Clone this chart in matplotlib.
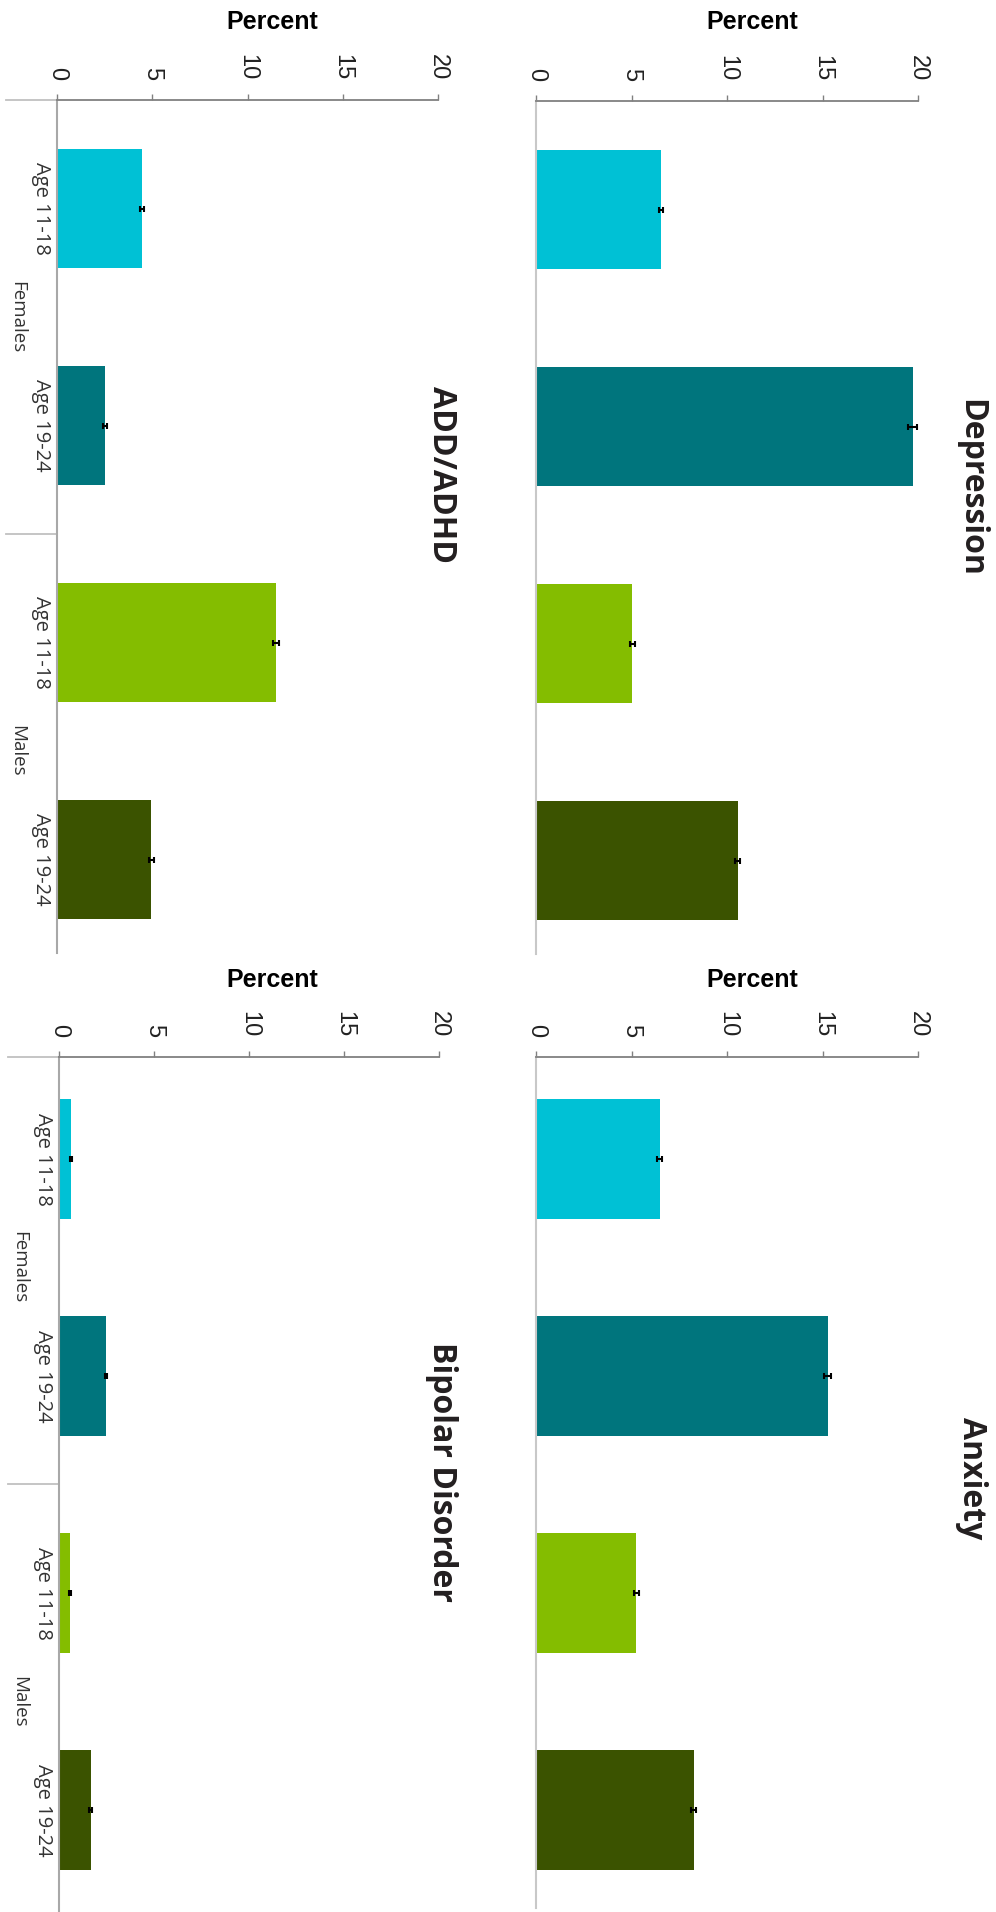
import matplotlib
matplotlib.use("Agg")
import matplotlib.pyplot as plt
import matplotlib.font_manager as fm
import numpy as np

# data
categories = ["Age 11-18", "Age 19-24", "Age 11-18", "Age 19-24"]
groups = ["Females", "Males"]
bar_colors = ["#00c1d5", "#00757d", "#84bd00", "#3b5300"]
ticks = [0, 5, 10, 15, 20]

depression = [6.55, 19.72, 5.05, 10.55]
depression_err = [0.12, 0.22, 0.12, 0.15]
anxiety = [6.47, 15.27, 5.25, 8.25]
anxiety_err = [0.12, 0.18, 0.12, 0.12]
adhd = [4.45, 2.5, 11.5, 4.95]
adhd_err = [0.1, 0.1, 0.14, 0.12]
bipolar = [0.65, 2.47, 0.56, 1.68]
bipolar_err = [0.05, 0.06, 0.05, 0.08]

W, H = 996, 1912
SLOT = 217
names = {f.name for f in fm.fontManager.ttflist}
tick_font = "Liberation Sans Narrow" if "Liberation Sans Narrow" in names else "Liberation Sans"

fig = plt.figure(figsize=(W / 100, H / 100), dpi=100)


def rect(x0, x1, y0):
    y1 = y0 + 4 * SLOT
    return [x0 / W, 1 - y1 / H, (x1 - x0) / W, (y1 - y0) / H]


def panel(r, values, errs, title, title_xy, percent_xy, labels, line_end, y_top=-0.5):
    ax = fig.add_axes(r)
    pos = np.arange(len(values))
    ax.barh(pos, values, height=0.55, color=bar_colors, edgecolor="none", zorder=2)
    ax.errorbar(values, pos, xerr=errs, fmt="none", ecolor="black",
                elinewidth=1.5, capsize=2.5, capthick=1.5, zorder=3)
    ax.set_xlim(0, 20)
    ax.set_ylim(y_top + 4, y_top)
    ax.set_xticks(ticks)
    ax.xaxis.tick_top()
    ax.tick_params(axis="x", direction="out", length=4.5, width=1, color="#808080",
                   pad=10, labelsize=17, labelcolor="#222222", labelrotation=-90)
    for t in ax.get_xticklabels():
        t.set_fontfamily(tick_font)
    for s in ["right", "bottom"]:
        ax.spines[s].set_visible(False)
    ax.spines["top"].set_color("#808080")
    ax.spines["top"].set_linewidth(1.3)
    ax.spines["left"].set_color("#a8a8a8" if labels else "#c8c8c8")
    ax.spines["left"].set_linewidth(1.5)
    ax.spines["left"].set_bounds(y_top, line_end)
    ax.set_yticks(pos)
    if labels:
        ax.set_yticklabels(categories, rotation=-90, fontsize=14.5,
                           family="Open Sans", color="#333333")
        plt.setp(ax.get_yticklabels(), va="center")
        ax.tick_params(axis="y", length=0, pad=4)
        tr = ax.get_yaxis_transform()
        for yy in [y_top, 1.5]:
            ax.plot([-0.135, 0], [yy, yy], color="#c0c0c0", lw=1.3,
                    transform=tr, clip_on=False)
        for i, g in enumerate(groups):
            ax.text(-0.105, 2 * i + 0.5, g, transform=tr, rotation=-90,
                    ha="center", va="center", fontsize=13.5,
                    family="Open Sans", color="#333333")
    else:
        ax.set_yticklabels([])
        ax.tick_params(axis="y", length=0)
    fig.text(title_xy[0] / W, 1 - title_xy[1] / H, title, rotation=-90,
             ha="center", va="center", fontsize=23, fontweight="bold",
             family="Open Sans", color="#231f20")
    fig.text(percent_xy[0] / W, 1 - percent_xy[1] / H, "Percent",
             ha="center", va="center", fontsize=18, fontweight="bold",
             family="Liberation Sans", color="black")
    return ax


panel(rect(57, 438, 100), adhd, adhd_err, "ADD/ADHD", (441, 475), (272, 22), True, 3.43)
panel(rect(536, 918, 101), depression, depression_err, "Depression", (971, 488), (752, 22), False, 3.43)
panel(rect(59, 439, 1057), bipolar, bipolar_err, "Bipolar Disorder", (441, 1472), (272, 980), True, 3.6, -0.47)
panel(rect(536, 918, 1057), anxiety, anxiety_err, "Anxiety", (971, 1478), (752, 980), False, 3.45, -0.47)

fig.savefig("out.png", dpi=100, facecolor="white")
